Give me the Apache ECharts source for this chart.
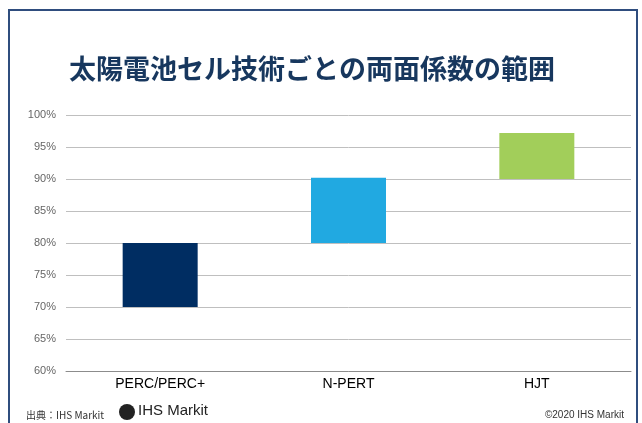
<!DOCTYPE html>
<html>
<head>
<meta charset="utf-8">
<title>太陽電池セル技術ごとの両面係数の範囲</title>
<script src="https://cdn.jsdelivr.net/npm/echarts@6/dist/echarts.min.js"></script>
<style>
body{margin:0;background:#fff;}
#chart{width:642px;height:423px;}
</style>
</head>
<body>
<div id="chart"></div>
<script>
var categories = ["PERC/PERC+", "N-PERT", "HJT"];
var rangeLow = [70, 80, 90];
var rangeHigh = [80, 90.2, 97.2];
var barColors = ["#002D62", "#21A9E1", "#A2CE5A"];
var yTicks = [60, 65, 70, 75, 80, 85, 90, 95, 100];

var spans = [];
for (var i = 0; i < categories.length; i++) {
	spans.push({value: +(rangeHigh[i] - rangeLow[i]).toFixed(2), itemStyle: {color: barColors[i]}});
}

var myChart = echarts.init(document.getElementById('chart'));
var option = {
	animation: false,
	title: {
		text: '太陽電池セル技術ごとの両面係数の範囲',
		left: 64,
		top: 50,
		textStyle: {
			fontFamily: 'Noto Sans CJK JP',
			fontSize: 27,
			fontWeight: 'bold',
			color: '#17375E'
		}
	},
	grid: {left: 66, right: 11, top: 115, bottom: 52},
	xAxis: {
		type: 'category',
		data: categories,
		axisTick: {show: false},
		axisLine: {lineStyle: {color: '#8C8C8C'}},
		axisLabel: {color: '#000', fontSize: 14, fontFamily: 'Liberation Sans', margin: 6}
	},
	yAxis: {
		type: 'value',
		min: yTicks[0],
		max: yTicks[yTicks.length - 1],
		interval: 5,
		axisLine: {show: false},
		axisTick: {show: false},
		axisLabel: {formatter: '{value}%', color: '#666', fontSize: 11, fontFamily: 'Liberation Sans', margin: 10},
		splitLine: {lineStyle: {color: '#BFBFBF'}}
	},
	series: [
		{type: 'bar', stack: 'r', data: rangeLow, itemStyle: {color: 'transparent'}, barWidth: 75, silent: true},
		{type: 'bar', stack: 'r', data: spans, barWidth: 75}
	],
	graphic: [
		{type: 'rect', shape: {x: 9, y: 10, width: 628, height: 430}, style: {fill: 'none', stroke: '#2F4D7E', lineWidth: 2}},
		{type: 'text', left: 26, top: 410, style: {text: '出典：IHS Markit', fontSize: 10, fill: '#333', fontFamily: 'Noto Sans CJK JP'}},
		{type: 'text', left: 138, top: 403, style: {text: 'IHS Markit', fontSize: 15, fill: '#222', fontFamily: 'Liberation Sans'}},
		{type: 'circle', shape: {cx: 127, cy: 412, r: 8}, style: {fill: '#222'}},
		{type: 'text', right: 18, top: 410, style: {text: '©2020 IHS Markit', fontSize: 10, fill: '#333', fontFamily: 'Liberation Sans'}}
	]
};
myChart.setOption(option);
</script>
</body>
</html>
